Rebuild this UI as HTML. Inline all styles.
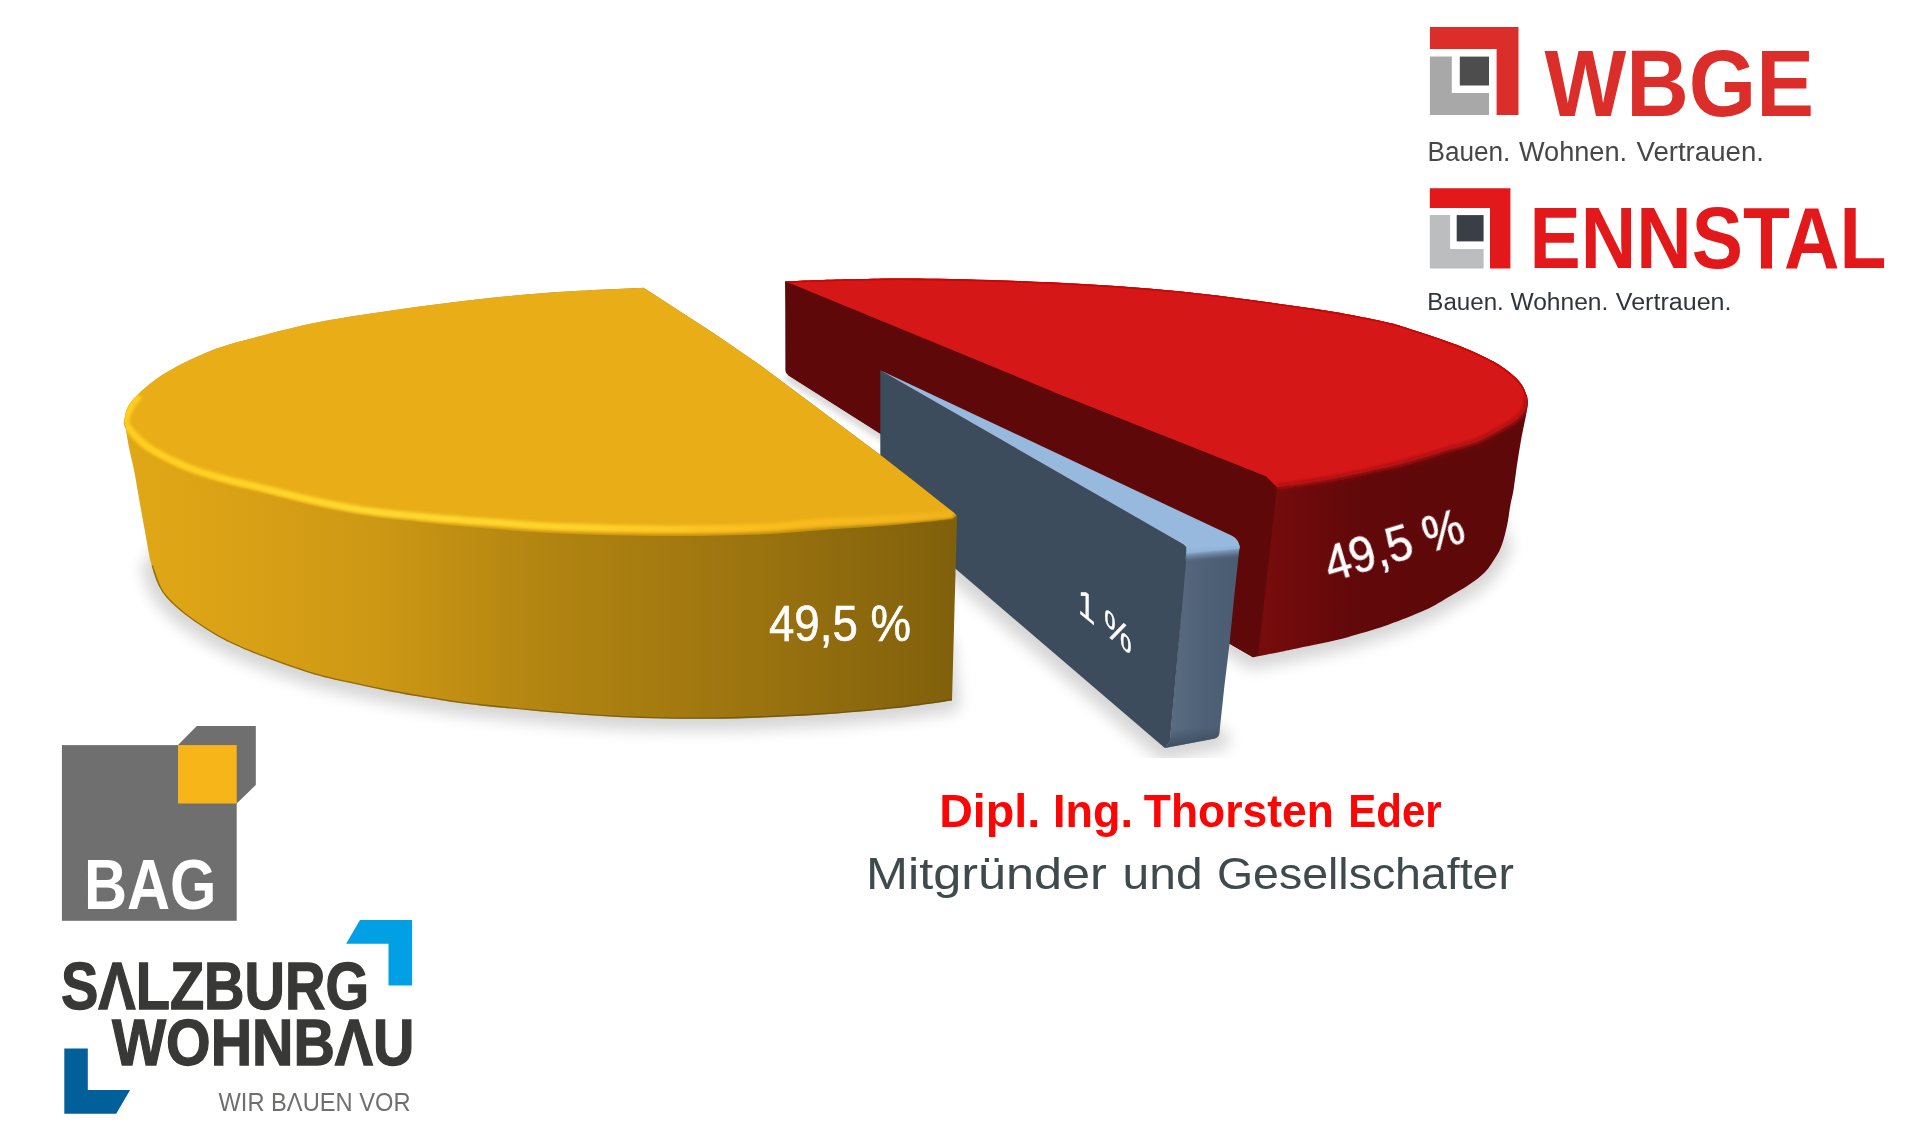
<!DOCTYPE html>
<html><head><meta charset="utf-8"><title>Beteiligung</title>
<style>
html,body{margin:0;padding:0;background:#fff;}
body{width:1912px;height:1142px;overflow:hidden;font-family:"Liberation Sans",sans-serif;}
svg{display:block;position:absolute;left:0;top:0;}
text{font-family:"Liberation Sans",sans-serif;}
</style></head><body>
<svg width="1912" height="1142" viewBox="0 0 1912 1142">
<defs>
  <linearGradient id="gYside" gradientUnits="userSpaceOnUse" x1="125" y1="0" x2="957" y2="0">
    <stop offset="0" stop-color="#E0A716"/>
    <stop offset="0.10" stop-color="#DCA316"/>
    <stop offset="0.30" stop-color="#CD9814"/>
    <stop offset="0.52" stop-color="#B08311"/>
    <stop offset="0.76" stop-color="#9B730F"/>
    <stop offset="1" stop-color="#80600C"/>
  </linearGradient>
  <linearGradient id="gYrim" gradientUnits="userSpaceOnUse" x1="125" y1="0" x2="957" y2="0">
    <stop offset="0" stop-color="#FFCE1E"/>
    <stop offset="0.30" stop-color="#FFDA30"/>
    <stop offset="0.55" stop-color="#FFD22B"/>
    <stop offset="0.78" stop-color="#FBBC1D"/>
    <stop offset="1" stop-color="#F0B31A"/>
  </linearGradient>
  <linearGradient id="gRside" gradientUnits="userSpaceOnUse" x1="1262" y1="0" x2="1527" y2="0">
    <stop offset="0" stop-color="#770C0C"/>
    <stop offset="0.15" stop-color="#6E0A0B"/>
    <stop offset="0.38" stop-color="#60080A"/>
    <stop offset="1" stop-color="#5E080A"/>
  </linearGradient>
  <linearGradient id="gBend" gradientUnits="userSpaceOnUse" x1="1170" y1="0" x2="1235" y2="0">
    <stop offset="0" stop-color="#586C82"/>
    <stop offset="0.5" stop-color="#4F6177"/>
    <stop offset="1" stop-color="#4B5D72"/>
  </linearGradient>
  <linearGradient id="gBband" gradientUnits="userSpaceOnUse" x1="1212" y1="546" x2="1213.3" y2="560.5">
    <stop offset="0" stop-color="#96B9DD" stop-opacity="1"/>
    <stop offset="0.3" stop-color="#8FB1D4" stop-opacity="0.95"/>
    <stop offset="0.7" stop-color="#6F8BA8" stop-opacity="0.5"/>
    <stop offset="1" stop-color="#4F6176" stop-opacity="0"/>
  </linearGradient>
  <linearGradient id="gBendV" gradientUnits="userSpaceOnUse" x1="1195" y1="728" x2="1196" y2="743">
    <stop offset="0" stop-color="#3F4F62" stop-opacity="0"/>
    <stop offset="1" stop-color="#3F4F62" stop-opacity="0.9"/>
  </linearGradient>
  <filter id="blur8" x="-20%" y="-20%" width="140%" height="140%"><feGaussianBlur stdDeviation="7.5"/></filter>
  <filter id="blur4" x="-20%" y="-20%" width="140%" height="140%"><feGaussianBlur stdDeviation="3.2"/></filter>
  <filter id="blur6" x="-20%" y="-20%" width="140%" height="140%"><feGaussianBlur stdDeviation="6"/></filter>
  <filter id="blur1" x="-20%" y="-20%" width="140%" height="140%"><feGaussianBlur stdDeviation="1.1"/></filter>
  <filter id="blur22" x="-20%" y="-20%" width="140%" height="140%"><feGaussianBlur stdDeviation="2.2"/></filter>
  <filter id="blur2" x="-20%" y="-20%" width="140%" height="140%"><feGaussianBlur stdDeviation="1.6"/></filter>
  <clipPath id="chartClip"><rect x="0" y="0" width="1912" height="758"/></clipPath>
  <clipPath id="ySilClip"><path d="M643.6 287.7 C629.3 288.4 585.2 290.2 557.7 292.1 C530.2 294.0 505.1 296.3 478.8 299.2 C452.5 302.1 426.4 305.5 400.0 309.3 C373.6 313.1 344.4 317.2 320.7 321.8 C297.0 326.4 276.1 331.9 257.7 336.8 C239.3 341.7 226.2 344.7 210.4 351.0 C194.6 357.3 176.2 366.2 163.0 374.6 C149.8 383.0 137.9 394.0 131.5 401.4 C125.1 408.8 125.6 415.8 124.4 418.7 C125.1 423.1 126.9 436.3 128.5 445.0 C130.1 453.7 132.4 461.7 134.2 470.9 C136.0 480.1 137.5 489.7 139.3 500.0 C141.1 510.3 143.1 521.8 145.2 532.8 C147.3 543.8 148.8 555.8 151.7 565.7 C154.5 575.6 157.2 584.3 162.3 592.0 C167.4 599.7 174.3 605.6 182.0 612.0 C189.7 618.4 200.2 625.4 208.2 630.5 C216.2 635.6 221.8 638.6 230.0 642.6 C238.2 646.6 244.5 649.5 257.6 654.5 C270.7 659.5 293.7 668.0 308.8 672.7 C323.9 677.4 335.1 679.6 348.2 682.6 C361.3 685.6 374.2 688.3 387.6 690.9 C401.0 693.5 413.0 695.6 428.4 698.0 C443.8 700.4 450.6 702.4 480.0 705.4 C509.4 708.4 566.7 714.0 605.0 716.2 C643.3 718.4 675.0 719.0 710.0 718.8 C745.0 718.6 784.3 716.6 815.0 714.9 C845.7 713.1 871.2 710.7 894.0 708.3 C916.8 705.9 942.3 701.7 952.0 700.4 L957.0 517.0 L956.2 515.3 L954.5 513.2 L912.5 480.0 L879.4 454.2 L760.0 365.0 L714.5 333.8 Z"/></clipPath>
  <clipPath id="bEndClip"><path d="M1186.5 548.0 L1239.7 545.5 L1234.9 590.0 L1229.4 644.7 L1224.4 686.0 L1219.6 731.0 Q1219.6 737 1215 738.5 L1164.8 748.1 L1169.8 742.2 Z"/></clipPath>
  <clipPath id="yTopClip"><path d="M643.6 287.7 C629.3 288.4 585.2 290.2 557.7 292.1 C530.2 294.0 505.1 296.3 478.8 299.2 C452.5 302.1 426.4 305.5 400.0 309.3 C373.6 313.1 344.4 317.2 320.7 321.8 C297.0 326.4 276.1 331.9 257.7 336.8 C239.3 341.7 226.2 344.7 210.4 351.0 C194.6 357.3 176.2 366.2 163.0 374.6 C149.8 383.0 137.9 394.0 131.5 401.4 C125.1 408.8 125.6 415.8 124.4 418.7 C124.6 420.2 122.5 423.3 125.3 428.0 C128.1 432.7 134.1 441.2 141.0 447.0 C147.9 452.8 158.3 458.1 167.0 462.5 C175.7 466.9 183.0 469.9 193.0 473.5 C203.0 477.1 215.7 480.7 227.0 483.8 C238.3 486.9 246.8 488.7 261.0 492.3 C275.2 495.9 294.7 501.3 312.0 505.2 C329.3 509.1 347.4 512.8 365.0 515.6 C382.6 518.4 400.5 519.9 417.6 521.8 C434.7 523.7 444.1 524.8 467.8 526.8 C491.5 528.8 527.1 532.0 560.0 533.5 C592.9 535.0 631.7 535.8 665.0 536.0 C698.3 536.2 734.2 535.5 760.0 534.5 C785.8 533.5 797.7 531.8 820.0 530.2 C842.3 528.6 873.0 526.8 894.0 525.0 C915.0 523.2 935.8 520.9 946.0 519.5 C956.2 518.1 953.3 517.5 955.0 516.8 C956.7 516.1 956.0 515.5 956.2 515.3 L956.2 515.3 L954.5 513.2 L912.5 480.0 L879.4 454.2 L760.0 365.0 L714.5 333.8 Z"/></clipPath>
  <clipPath id="rSilClip"><path d="M785.2 281.3 C796.0 280.9 827.9 279.6 850.0 279.2 C872.1 278.8 884.4 278.1 917.7 278.6 C951.0 279.1 1006.0 280.2 1050.0 282.3 C1094.0 284.4 1137.6 287.1 1181.4 291.5 C1225.2 295.9 1279.6 303.7 1312.7 308.6 C1345.8 313.5 1364.0 317.5 1380.0 320.8 C1396.0 324.1 1398.9 325.6 1408.4 328.4 C1417.9 331.2 1427.3 334.5 1436.8 337.8 C1446.2 341.1 1455.6 344.2 1465.1 348.2 C1474.5 352.1 1485.6 357.1 1493.5 361.5 C1501.4 365.9 1507.7 370.8 1512.4 374.7 C1517.1 378.6 1519.5 381.5 1521.9 385.1 C1524.4 388.7 1526.2 394.6 1527.1 396.5 C1527.2 397.7 1528.2 400.1 1527.9 403.6 C1527.6 407.2 1526.7 411.5 1525.5 417.8 C1524.3 424.1 1522.2 433.6 1520.8 441.5 C1519.4 449.4 1518.2 457.0 1517.0 465.1 C1515.8 473.2 1514.6 483.2 1513.5 490.0 C1512.4 496.8 1511.3 500.0 1510.3 505.8 C1509.2 511.6 1508.6 518.2 1507.2 524.7 C1505.8 531.2 1503.8 539.3 1501.9 544.7 C1500.0 550.1 1498.4 552.8 1495.6 557.3 C1492.8 561.8 1489.5 567.5 1485.1 572.0 C1480.7 576.5 1475.4 580.4 1469.3 584.6 C1463.2 588.8 1455.6 593.0 1448.3 597.2 C1441.0 601.4 1435.1 605.5 1425.2 610.0 C1415.3 614.5 1399.9 620.5 1389.0 624.4 C1378.1 628.3 1368.8 630.9 1360.0 633.5 C1351.2 636.1 1346.3 637.8 1336.5 640.1 C1326.7 642.5 1309.7 645.8 1300.9 647.6 C1292.1 649.5 1291.9 649.6 1283.9 651.2 C1275.9 652.8 1258.2 656.3 1253.0 657.3 L1030.0 528.7 L788.0 375.0 Z"/></clipPath>
  <clipPath id="rTopClip"><path d="M785.2 281.3 C796.0 280.9 827.9 279.6 850.0 279.2 C872.1 278.8 884.4 278.1 917.7 278.6 C951.0 279.1 1006.0 280.2 1050.0 282.3 C1094.0 284.4 1137.6 287.1 1181.4 291.5 C1225.2 295.9 1279.6 303.7 1312.7 308.6 C1345.8 313.5 1364.0 317.5 1380.0 320.8 C1396.0 324.1 1398.9 325.6 1408.4 328.4 C1417.9 331.2 1427.3 334.5 1436.8 337.8 C1446.2 341.1 1455.6 344.2 1465.1 348.2 C1474.5 352.1 1485.6 357.1 1493.5 361.5 C1501.4 365.9 1507.7 370.8 1512.4 374.7 C1517.1 378.6 1519.5 381.5 1521.9 385.1 C1524.4 388.7 1526.2 394.6 1527.1 396.5 C1527.2 397.6 1527.8 400.8 1527.6 403.0 C1527.4 405.2 1526.9 407.5 1526.0 409.5 C1525.1 411.5 1523.8 412.8 1522.0 414.8 C1520.2 416.8 1518.8 419.0 1515.1 421.6 C1511.4 424.2 1506.3 426.8 1500.0 430.2 C1493.7 433.6 1485.6 438.7 1477.3 442.0 C1469.0 445.3 1458.7 447.2 1450.0 449.8 C1441.3 452.4 1433.3 455.1 1425.0 457.5 C1416.7 459.9 1407.9 462.5 1400.0 464.5 C1392.1 466.5 1387.0 467.5 1377.7 469.6 C1368.4 471.7 1355.3 474.8 1344.1 477.0 C1332.9 479.2 1319.5 481.4 1310.5 482.9 C1301.5 484.4 1295.6 485.1 1290.0 485.8 C1284.4 486.5 1279.2 487.1 1277.0 487.3 L1266.0 476.2 L1060.0 394.4 Z"/></clipPath>
</defs>

<!-- ===== shadows ===== -->
<g clip-path="url(#chartClip)">
  <g filter="url(#blur8)" opacity="0.16">
    <path d="M151.7 565.7 C153.5 570.1 157.2 584.3 162.3 592.0 C167.4 599.7 174.3 605.6 182.0 612.0 C189.7 618.4 200.2 625.4 208.2 630.5 C216.2 635.6 221.8 638.6 230.0 642.6 C238.2 646.6 244.5 649.5 257.6 654.5 C270.7 659.5 293.7 668.0 308.8 672.7 C323.9 677.4 335.1 679.6 348.2 682.6 C361.3 685.6 374.2 688.3 387.6 690.9 C401.0 693.5 413.0 695.6 428.4 698.0 C443.8 700.4 450.6 702.4 480.0 705.4 C509.4 708.4 566.7 714.0 605.0 716.2 C643.3 718.4 675.0 719.0 710.0 718.8 C745.0 718.6 784.3 716.6 815.0 714.9 C845.7 713.1 871.2 710.7 894.0 708.3 C916.8 705.9 942.3 701.7 952.0 700.4 L945.0 640.0 L600.0 530.0 L300.0 505.0 L172.0 542.0 Z" transform="translate(-1,3)" fill="#000" stroke="#000" stroke-width="18" stroke-linejoin="round"/>
  </g>
  <g filter="url(#blur8)" opacity="0.16">
    <path d="M1501.9 544.7 C1500.9 546.8 1498.4 552.8 1495.6 557.3 C1492.8 561.8 1489.5 567.5 1485.1 572.0 C1480.7 576.5 1475.4 580.4 1469.3 584.6 C1463.2 588.8 1455.6 593.0 1448.3 597.2 C1441.0 601.4 1435.1 605.5 1425.2 610.0 C1415.3 614.5 1399.9 620.5 1389.0 624.4 C1378.1 628.3 1368.8 630.9 1360.0 633.5 C1351.2 636.1 1346.3 637.8 1336.5 640.1 C1326.7 642.5 1309.7 645.8 1300.9 647.6 C1292.1 649.5 1291.9 649.6 1283.9 651.2 C1275.9 652.8 1258.2 656.3 1253.0 657.3 L1200.0 625.0 L1150.0 560.0 L1300.0 440.0 L1488.0 500.0 Z" transform="translate(0,3)" fill="#000" stroke="#000" stroke-width="18" stroke-linejoin="round"/>
  </g>
  <g filter="url(#blur4)" opacity="0.15">
    <path d="M789.5 376.5 L1150.0 604.0 L1150.0 560.0 L1000.0 420.0 L806.0 368.0 Z" transform="translate(-1,2)" fill="#000" stroke="#000" stroke-width="7" stroke-linejoin="round"/>
  </g>
  <g filter="url(#blur8)" opacity="0.16">
    <path d="M880.3 504.3 L1164.8 748.1 L1219.5 736.7 Z" transform="translate(0,3)" fill="#000" stroke="#000" stroke-width="20" stroke-linejoin="round"/>
  </g>
</g>

<!-- ===== red slice ===== -->
<path d="M785.2 281.3 C796.0 280.9 827.9 279.6 850.0 279.2 C872.1 278.8 884.4 278.1 917.7 278.6 C951.0 279.1 1006.0 280.2 1050.0 282.3 C1094.0 284.4 1137.6 287.1 1181.4 291.5 C1225.2 295.9 1279.6 303.7 1312.7 308.6 C1345.8 313.5 1364.0 317.5 1380.0 320.8 C1396.0 324.1 1398.9 325.6 1408.4 328.4 C1417.9 331.2 1427.3 334.5 1436.8 337.8 C1446.2 341.1 1455.6 344.2 1465.1 348.2 C1474.5 352.1 1485.6 357.1 1493.5 361.5 C1501.4 365.9 1507.7 370.8 1512.4 374.7 C1517.1 378.6 1519.5 381.5 1521.9 385.1 C1524.4 388.7 1526.2 394.6 1527.1 396.5 C1527.2 397.7 1528.2 400.1 1527.9 403.6 C1527.6 407.2 1526.7 411.5 1525.5 417.8 C1524.3 424.1 1522.2 433.6 1520.8 441.5 C1519.4 449.4 1518.2 457.0 1517.0 465.1 C1515.8 473.2 1514.6 483.2 1513.5 490.0 C1512.4 496.8 1511.3 500.0 1510.3 505.8 C1509.2 511.6 1508.6 518.2 1507.2 524.7 C1505.8 531.2 1503.8 539.3 1501.9 544.7 C1500.0 550.1 1498.4 552.8 1495.6 557.3 C1492.8 561.8 1489.5 567.5 1485.1 572.0 C1480.7 576.5 1475.4 580.4 1469.3 584.6 C1463.2 588.8 1455.6 593.0 1448.3 597.2 C1441.0 601.4 1435.1 605.5 1425.2 610.0 C1415.3 614.5 1399.9 620.5 1389.0 624.4 C1378.1 628.3 1368.8 630.9 1360.0 633.5 C1351.2 636.1 1346.3 637.8 1336.5 640.1 C1326.7 642.5 1309.7 645.8 1300.9 647.6 C1292.1 649.5 1291.9 649.6 1283.9 651.2 C1275.9 652.8 1258.2 656.3 1253.0 657.3 L1030.0 528.7 L788.0 375.0 Z" fill="url(#gRside)"/>
<path d="M785.2 281.3 L1060.0 394.4 L1266.0 476.2 Q1275.5 480.5 1276.8 488 L1258.0 655.8 L1253.0 657.3 L1030.0 528.7 L788.5 375.5 Q785.6 373.6 785.4 370.5 Z" fill="#5E080A"/>
<path d="M785.2 281.3 C796.0 280.9 827.9 279.6 850.0 279.2 C872.1 278.8 884.4 278.1 917.7 278.6 C951.0 279.1 1006.0 280.2 1050.0 282.3 C1094.0 284.4 1137.6 287.1 1181.4 291.5 C1225.2 295.9 1279.6 303.7 1312.7 308.6 C1345.8 313.5 1364.0 317.5 1380.0 320.8 C1396.0 324.1 1398.9 325.6 1408.4 328.4 C1417.9 331.2 1427.3 334.5 1436.8 337.8 C1446.2 341.1 1455.6 344.2 1465.1 348.2 C1474.5 352.1 1485.6 357.1 1493.5 361.5 C1501.4 365.9 1507.7 370.8 1512.4 374.7 C1517.1 378.6 1519.5 381.5 1521.9 385.1 C1524.4 388.7 1526.2 394.6 1527.1 396.5 C1527.2 397.6 1527.8 400.8 1527.6 403.0 C1527.4 405.2 1526.9 407.5 1526.0 409.5 C1525.1 411.5 1523.8 412.8 1522.0 414.8 C1520.2 416.8 1518.8 419.0 1515.1 421.6 C1511.4 424.2 1506.3 426.8 1500.0 430.2 C1493.7 433.6 1485.6 438.7 1477.3 442.0 C1469.0 445.3 1458.7 447.2 1450.0 449.8 C1441.3 452.4 1433.3 455.1 1425.0 457.5 C1416.7 459.9 1407.9 462.5 1400.0 464.5 C1392.1 466.5 1387.0 467.5 1377.7 469.6 C1368.4 471.7 1355.3 474.8 1344.1 477.0 C1332.9 479.2 1319.5 481.4 1310.5 482.9 C1301.5 484.4 1295.6 485.1 1290.0 485.8 C1284.4 486.5 1279.2 487.1 1277.0 487.3 L1266.0 476.2 L1060.0 394.4 Z" fill="#D61717"/>
<g clip-path="url(#rTopClip)"><path d="M785.2 281.3 C796.0 280.9 827.9 279.6 850.0 279.2 C872.1 278.8 884.4 278.1 917.7 278.6 C951.0 279.1 1006.0 280.2 1050.0 282.3 C1094.0 284.4 1137.6 287.1 1181.4 291.5 C1225.2 295.9 1279.6 303.7 1312.7 308.6 C1345.8 313.5 1364.0 317.5 1380.0 320.8 C1396.0 324.1 1398.9 325.6 1408.4 328.4 C1417.9 331.2 1427.3 334.5 1436.8 337.8 C1446.2 341.1 1455.6 344.2 1465.1 348.2 C1474.5 352.1 1485.6 357.1 1493.5 361.5 C1501.4 365.9 1507.7 370.8 1512.4 374.7 C1517.1 378.6 1519.5 381.5 1521.9 385.1 C1524.4 388.7 1526.2 394.6 1527.1 396.5" fill="none" stroke="#CC0404" stroke-width="3.2"/></g>
<g clip-path="url(#rSilClip)">
  <path d="M1527.1 396.5 C1527.2 397.6 1527.8 400.8 1527.6 403.0 C1527.4 405.2 1526.9 407.5 1526.0 409.5 C1525.1 411.5 1523.8 412.8 1522.0 414.8 C1520.2 416.8 1518.8 419.0 1515.1 421.6 C1511.4 424.2 1506.3 426.8 1500.0 430.2 C1493.7 433.6 1485.6 438.7 1477.3 442.0 C1469.0 445.3 1458.7 447.2 1450.0 449.8 C1441.3 452.4 1433.3 455.1 1425.0 457.5 C1416.7 459.9 1407.9 462.5 1400.0 464.5 C1392.1 466.5 1387.0 467.5 1377.7 469.6 C1368.4 471.7 1355.3 474.8 1344.1 477.0 C1332.9 479.2 1319.5 481.4 1310.5 482.9 C1301.5 484.4 1295.6 485.1 1290.0 485.8 C1284.4 486.5 1279.2 487.1 1277.0 487.3" fill="none" stroke="#9A1011" stroke-width="4.5" filter="url(#blur22)"/>
</g>

<!-- ===== blue slice ===== -->
<path d="M1186.5 548.0 L1239.7 545.5 L1234.9 590.0 L1229.4 644.7 L1224.4 686.0 L1219.6 731.0 Q1219.6 737 1215 738.5 L1164.8 748.1 L1169.8 742.2 Z" fill="url(#gBend)"/>
<path d="M1186.5 548.0 L1239.7 545.5 L1234.9 590.0 L1229.4 644.7 L1224.4 686.0 L1219.6 731.0 Q1219.6 737 1215 738.5 L1164.8 748.1 L1169.8 742.2 Z" fill="url(#gBendV)"/>
<path d="M880.3 370.2 L1183.7 544.5 Q1186.6 546.5 1187.1 550.4 L1169.8 742.2 L1164.8 748.1 L880.3 504.3 Z" fill="#3D4C5C"/>
<path d="M880.3 370.2 L1232.5 536.1 Q1239 539.6 1239.7 547.8 L1239.5 548.5 L1187.3 553.5 L1187.1 550.4 Q1186.6 546.5 1183.7 544.5 Z" fill="#96B9DD"/>
<g clip-path="url(#bEndClip)"><path d="M1184.0 542.0 L1241.0 538.0 L1239.0 566.0 L1184.0 571.0 Z" fill="url(#gBband)"/></g>

<!-- ===== yellow slice ===== -->
<path d="M643.6 287.7 C629.3 288.4 585.2 290.2 557.7 292.1 C530.2 294.0 505.1 296.3 478.8 299.2 C452.5 302.1 426.4 305.5 400.0 309.3 C373.6 313.1 344.4 317.2 320.7 321.8 C297.0 326.4 276.1 331.9 257.7 336.8 C239.3 341.7 226.2 344.7 210.4 351.0 C194.6 357.3 176.2 366.2 163.0 374.6 C149.8 383.0 137.9 394.0 131.5 401.4 C125.1 408.8 125.6 415.8 124.4 418.7 C125.1 423.1 126.9 436.3 128.5 445.0 C130.1 453.7 132.4 461.7 134.2 470.9 C136.0 480.1 137.5 489.7 139.3 500.0 C141.1 510.3 143.1 521.8 145.2 532.8 C147.3 543.8 148.8 555.8 151.7 565.7 C154.5 575.6 157.2 584.3 162.3 592.0 C167.4 599.7 174.3 605.6 182.0 612.0 C189.7 618.4 200.2 625.4 208.2 630.5 C216.2 635.6 221.8 638.6 230.0 642.6 C238.2 646.6 244.5 649.5 257.6 654.5 C270.7 659.5 293.7 668.0 308.8 672.7 C323.9 677.4 335.1 679.6 348.2 682.6 C361.3 685.6 374.2 688.3 387.6 690.9 C401.0 693.5 413.0 695.6 428.4 698.0 C443.8 700.4 450.6 702.4 480.0 705.4 C509.4 708.4 566.7 714.0 605.0 716.2 C643.3 718.4 675.0 719.0 710.0 718.8 C745.0 718.6 784.3 716.6 815.0 714.9 C845.7 713.1 871.2 710.7 894.0 708.3 C916.8 705.9 942.3 701.7 952.0 700.4 L957.0 517.0 L956.2 515.3 L954.5 513.2 L912.5 480.0 L879.4 454.2 L760.0 365.0 L714.5 333.8 Z" fill="url(#gYside)"/>
<path d="M643.6 287.7 C629.3 288.4 585.2 290.2 557.7 292.1 C530.2 294.0 505.1 296.3 478.8 299.2 C452.5 302.1 426.4 305.5 400.0 309.3 C373.6 313.1 344.4 317.2 320.7 321.8 C297.0 326.4 276.1 331.9 257.7 336.8 C239.3 341.7 226.2 344.7 210.4 351.0 C194.6 357.3 176.2 366.2 163.0 374.6 C149.8 383.0 137.9 394.0 131.5 401.4 C125.1 408.8 125.6 415.8 124.4 418.7 C124.6 420.2 122.5 423.3 125.3 428.0 C128.1 432.7 134.1 441.2 141.0 447.0 C147.9 452.8 158.3 458.1 167.0 462.5 C175.7 466.9 183.0 469.9 193.0 473.5 C203.0 477.1 215.7 480.7 227.0 483.8 C238.3 486.9 246.8 488.7 261.0 492.3 C275.2 495.9 294.7 501.3 312.0 505.2 C329.3 509.1 347.4 512.8 365.0 515.6 C382.6 518.4 400.5 519.9 417.6 521.8 C434.7 523.7 444.1 524.8 467.8 526.8 C491.5 528.8 527.1 532.0 560.0 533.5 C592.9 535.0 631.7 535.8 665.0 536.0 C698.3 536.2 734.2 535.5 760.0 534.5 C785.8 533.5 797.7 531.8 820.0 530.2 C842.3 528.6 873.0 526.8 894.0 525.0 C915.0 523.2 935.8 520.9 946.0 519.5 C956.2 518.1 953.3 517.5 955.0 516.8 C956.7 516.1 956.0 515.5 956.2 515.3 L956.2 515.3 L954.5 513.2 L912.5 480.0 L879.4 454.2 L760.0 365.0 L714.5 333.8 Z" fill="#E9AE17"/>
<g clip-path="url(#ySilClip)">
  <path d="M151.7 565.7 C153.5 570.1 157.2 584.3 162.3 592.0 C167.4 599.7 174.3 605.6 182.0 612.0 C189.7 618.4 200.2 625.4 208.2 630.5 C216.2 635.6 221.8 638.6 230.0 642.6 C238.2 646.6 244.5 649.5 257.6 654.5 C270.7 659.5 293.7 668.0 308.8 672.7 C323.9 677.4 335.1 679.6 348.2 682.6 C361.3 685.6 374.2 688.3 387.6 690.9 C401.0 693.5 413.0 695.6 428.4 698.0 C443.8 700.4 450.6 702.4 480.0 705.4 C509.4 708.4 566.7 714.0 605.0 716.2 C643.3 718.4 675.0 719.0 710.0 718.8 C745.0 718.6 784.3 716.6 815.0 714.9 C845.7 713.1 871.2 710.7 894.0 708.3 C916.8 705.9 942.3 701.7 952.0 700.4" fill="none" stroke="#5E4508" stroke-width="2.6" opacity="0.55"/>
  <path d="M124.4 418.7 C124.6 420.2 122.5 423.3 125.3 428.0 C128.1 432.7 134.1 441.2 141.0 447.0 C147.9 452.8 158.3 458.1 167.0 462.5 C175.7 466.9 183.0 469.9 193.0 473.5 C203.0 477.1 215.7 480.7 227.0 483.8 C238.3 486.9 246.8 488.7 261.0 492.3 C275.2 495.9 294.7 501.3 312.0 505.2 C329.3 509.1 347.4 512.8 365.0 515.6 C382.6 518.4 400.5 519.9 417.6 521.8 C434.7 523.7 444.1 524.8 467.8 526.8 C491.5 528.8 527.1 532.0 560.0 533.5 C592.9 535.0 631.7 535.8 665.0 536.0 C698.3 536.2 734.2 535.5 760.0 534.5 C785.8 533.5 797.7 531.8 820.0 530.2 C842.3 528.6 873.0 526.8 894.0 525.0 C915.0 523.2 935.8 520.9 946.0 519.5 C956.2 518.1 953.3 517.5 955.0 516.8 C956.7 516.1 956.0 515.5 956.2 515.3" fill="none" stroke="url(#gYside)" stroke-width="4" opacity="0.6" filter="url(#blur2)"/>
  <path d="M139.0 395.5 C137.7 397.3 133.1 402.9 131.0 406.5 C128.9 410.1 127.3 413.9 126.6 417.0 C125.9 420.1 124.0 420.8 126.8 425.2 C129.6 429.6 136.6 438.1 143.6 443.7 C150.6 449.3 160.5 454.5 168.9 458.9 C177.3 463.2 184.3 466.3 194.1 469.8 C203.9 473.3 216.5 476.9 227.7 479.9 C238.9 482.9 247.3 484.4 261.4 487.8 C275.5 491.2 295.2 496.6 312.5 500.4 C329.8 504.2 347.6 507.8 365.1 510.4 C382.6 513.0 401.8 514.6 417.6 516.2 C433.4 517.8 446.3 518.8 460.0 519.9 C473.7 521.0 483.3 521.6 500.0 522.8 C516.7 523.9 532.5 525.8 560.0 526.8 C587.5 527.8 631.7 528.8 665.0 528.9 C698.3 529.0 734.2 528.4 760.0 527.3 C785.8 526.2 797.7 523.9 820.0 522.5 C842.3 521.1 873.0 520.1 894.0 518.8 C915.0 517.5 936.2 515.7 946.0 514.8 C955.8 513.9 951.8 513.7 953.0 513.5" fill="none" stroke="url(#gYrim)" stroke-width="7" filter="url(#blur2)"/>
</g>

<g id="alltext" opacity="0.999">
<!-- ===== labels ===== -->
<text x="769" y="641.3" font-size="49.5" fill="#fff" stroke="#fff" stroke-width="0.6" textLength="142" lengthAdjust="spacingAndGlyphs">49,5 %</text>
<text transform="translate(1330.5,582) rotate(-16.5)" font-size="49.5" fill="#fff" stroke="#fff" stroke-width="0.6" textLength="143" lengthAdjust="spacingAndGlyphs">49,5 %</text>
<text transform="matrix(0.69,0.566,0,0.77,1078,612)" font-size="49.5" fill="#fff" stroke="#fff" stroke-width="0.5" textLength="78" lengthAdjust="spacingAndGlyphs">1 %</text>

<!-- ===== WBGE logo ===== -->
<g>
  <path d="M1429.9 27.1H1518.5V115.1H1496.6V49H1429.9Z" fill="#DB2E2A"/>
  <path d="M1429.9 56.6H1451.8V93H1489V115.1H1429.9Z" fill="#A8A8A8"/>
  <rect x="1459.8" y="56.6" width="29.2" height="28.9" fill="#4D4D4D"/>
  <text x="1544.5" y="115.5" font-size="95" font-weight="bold" fill="#DB2E2A" textLength="269.5" lengthAdjust="spacingAndGlyphs">WBGE</text>
  <text x="1427.45" y="161.0" font-size="26.8" fill="#474747" textLength="82.95" lengthAdjust="spacingAndGlyphs">Bauen.</text>
  <text x="1518.9" y="161.0" font-size="26.8" fill="#474747" textLength="108.22" lengthAdjust="spacingAndGlyphs">Wohnen.</text>
  <text x="1636.5" y="161.0" font-size="26.8" fill="#474747" textLength="127.44" lengthAdjust="spacingAndGlyphs">Vertrauen.</text>
</g>

<!-- ===== ENNSTAL logo ===== -->
<g>
  <path d="M1429.8 188.2H1510.4V268.4H1490V208.1H1429.8Z" fill="#E3181A"/>
  <path d="M1429.8 215.1H1450.1V249H1483.6V268.4H1429.8Z" fill="#BBBDBF"/>
  <rect x="1456.7" y="215.1" width="26.9" height="26.3" fill="#3A3F45"/>
  <text x="1529.5" y="268.4" font-size="87" font-weight="bold" fill="#E3181A" textLength="357" lengthAdjust="spacingAndGlyphs">ENNSTAL</text>
  <text x="1427.33" y="310.2" font-size="23.3" fill="#2E353B" textLength="76.48" lengthAdjust="spacingAndGlyphs">Bauen.</text>
  <text x="1510.4" y="310.2" font-size="23.3" fill="#2E353B" textLength="97.93" lengthAdjust="spacingAndGlyphs">Wohnen.</text>
  <text x="1615.8" y="310.2" font-size="23.3" fill="#2E353B" textLength="115.69" lengthAdjust="spacingAndGlyphs">Vertrauen.</text>
</g>

<!-- ===== BAG logo ===== -->
<g>
  <path d="M178 745.1L196.8 725.9H255.8V785L236.7 803.5Z" fill="#706F6F"/>
  <rect x="61.9" y="745.1" width="174.8" height="175.7" fill="#706F6F"/>
  <rect x="178" y="745.1" width="58.7" height="58.4" fill="#F7B519"/>
  <text x="84" y="908.9" font-size="69.8" font-weight="bold" fill="#fff" textLength="132.5" lengthAdjust="spacingAndGlyphs">BAG</text>
</g>

<!-- ===== Salzburg Wohnbau logo ===== -->
<g>
  <path d="M360 919.9H412.1V985.5H388.5V943.8H346.1Z" fill="#009FE3"/>
  <path d="M64.3 1048.5H87.8V1089.9H130.1L116.2 1113.7H64.3Z" fill="#00609A"/>
  <text x="61" y="1008.8" font-size="66" font-weight="bold" fill="#383836" stroke="#383836" stroke-width="1.3" textLength="308" lengthAdjust="spacingAndGlyphs">S&#923;LZBURG</text>
  <text x="112" y="1064.6" font-size="65.6" font-weight="bold" fill="#383836" stroke="#383836" stroke-width="1.3" textLength="302.5" lengthAdjust="spacingAndGlyphs">WOHNB&#923;U</text>
  <text x="218.5" y="1111.1" font-size="25.1" fill="#6F6F6E" textLength="192" lengthAdjust="spacingAndGlyphs">WIR B&#923;UEN VOR</text>
</g>

<!-- ===== caption ===== -->
<text x="939.19" y="827.2" font-size="46.5" font-weight="bold" fill="#FB0505" textLength="100.96" lengthAdjust="spacingAndGlyphs">Dipl.</text>
<text x="1053.0" y="827.2" font-size="46.5" font-weight="bold" fill="#FB0505" textLength="79.97" lengthAdjust="spacingAndGlyphs">Ing.</text>
<text x="1143.84" y="827.2" font-size="46.5" font-weight="bold" fill="#FB0505" textLength="190.05" lengthAdjust="spacingAndGlyphs">Thorsten</text>
<text x="1348.29" y="827.2" font-size="46.5" font-weight="bold" fill="#FB0505" textLength="93.36" lengthAdjust="spacingAndGlyphs">Eder</text>
<text x="865.94" y="889.3" font-size="45.2" fill="#3F4A4C" textLength="240.98" lengthAdjust="spacingAndGlyphs">Mitgründer</text>
<text x="1122.62" y="889.3" font-size="45.2" fill="#3F4A4C" textLength="79.93" lengthAdjust="spacingAndGlyphs">und</text>
<text x="1216.94" y="889.3" font-size="45.2" fill="#3F4A4C" textLength="297.01" lengthAdjust="spacingAndGlyphs">Gesellschafter</text>
</g>
</svg>
</body></html>
